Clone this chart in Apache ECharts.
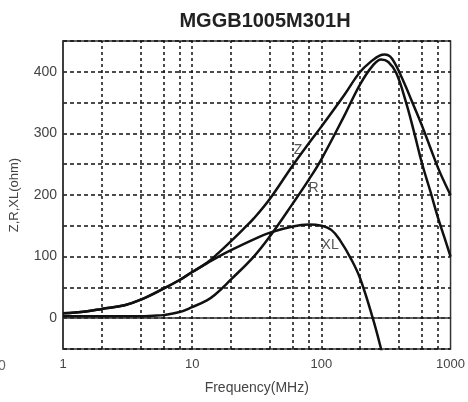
<!DOCTYPE html>
<html><head><meta charset="utf-8">
<script src="https://cdn.jsdelivr.net/npm/echarts@6/dist/echarts.min.js"></script>
<style>html,body{margin:0;padding:0;background:#fff}#c{width:468px;height:402px}</style>
</head><body><div id="c"></div>
<script>
var chartTitle = 'MGGB1005M301H';
var xName = 'Frequency(MHz)';
var yName = 'Z,R,XL(ohm)';
var xGridValues = [2,4,6,8,10,20,40,60,80,100,200,400,600,800];
var zData = [[1,8],[1.5,11],[2,15],[3,21],[4,30],[6,48],[8,62],[10,75],[13,90],[16,106],[20,125],[25,145],[30,162],[40,194],[60,248],[80,284],[100,311],[150,362],[200,400],[250,419],[280,426],[310,428],[340,425],[370,414],[400,400],[450,376],[500,353],[600,313],[700,276],[800,244],[900,220],[1000,200]];
var rData = [[1,3],[2,3],[3,3],[4,3],[5,4],[6,5],[8,10],[10,18],[13,29],[15,38],[20,63],[30,100],[40,133],[60,186],[80,225],[100,258],[150,328],[200,380],[250,410],[290,420],[330,416],[380,398],[450,352],[525,300],[600,252],[700,205],[800,163],[900,130],[1000,100]];
var xlData = [[1,8],[1.5,11],[2,15],[3,21],[4,30],[6,48],[8,62],[10,75],[13,89],[16,100],[20,110.5],[30,128],[40,139],[60,149],[80,152],[100,150],[120,143],[140,126],[170,96],[200,64],[250,0],[290,-50],[305,-70]];
var curveLabels = [{name:'Z', coord:[66,273]},{name:'R', coord:[87,211]},{name:'XL', coord:[117,119]}];

var chart = echarts.init(document.getElementById('c'), null, {renderer:'canvas'});
var lineStyle = {color:'#111', width:2.5};
chart.setOption({
  animation:false,
  title:{text:chartTitle, left:260, top:6, textAlign:'center', textStyle:{fontFamily:'Liberation Sans', fontWeight:'bold', fontSize:20, color:'#222'}},
  grid:{left:63, right:15, top:41, bottom:53, show:true, borderColor:'#333', borderWidth:1.5, backgroundColor:'transparent'},
  xAxis:{type:'log', logBase:10, min:1, max:1000, name:xName, nameLocation:'middle', nameGap:32,
    nameTextStyle:{fontFamily:'Liberation Sans', fontSize:14, color:'#444'},
    axisLine:{show:true, lineStyle:{color:'#333', width:1.5}}, axisTick:{show:false},
    axisLabel:{margin:9, fontFamily:'Liberation Sans', fontSize:13, color:'#444',
      formatter:function(v){return String(Math.round(v));}},
    splitLine:{show:false}},
  yAxis:{type:'value', min:-50, max:450, interval:50, name:yName, nameLocation:'middle', nameGap:42,
    nameTextStyle:{fontFamily:'Liberation Sans', fontSize:13, color:'#444'},
    axisLine:{show:true, lineStyle:{color:'#333', width:1.5}}, axisTick:{show:false},
    axisLabel:{margin:6, fontFamily:'Liberation Sans', fontSize:14, color:'#444',
      formatter:function(v){return (v>=0 && v%100===0)? String(v) : '';}},
    splitLine:{show:true, lineStyle:{color:'#111', width:1.5, type:[4,3]}}},
  graphic:[{type:'text', left:-2, top:359, style:{text:'0', fontFamily:'Liberation Sans', fontSize:14, fill:'#666'}}],
  series:[
    {type:'line', data:[], silent:true,
      markLine:{silent:true, symbol:'none', label:{show:false}, animation:false,
        lineStyle:{color:'#111', width:1.5, type:[3,3]},
        data:xGridValues.map(function(v){return {xAxis:v};})},
      markPoint:{symbol:'circle', symbolSize:0, silent:true,
        label:{show:true, formatter:'{b}', fontFamily:'Liberation Sans', fontSize:14, color:'#555'},
        data:curveLabels.map(function(d){return {name:d.name, coord:d.coord};})}},
    {name:'Z', type:'line', data:zData, smooth:0.4, symbol:'none', lineStyle:lineStyle, z:5},
    {name:'R', type:'line', data:rData, smooth:0.4, symbol:'none', lineStyle:lineStyle, z:5},
    {name:'XL', type:'line', data:xlData, smooth:0.4, symbol:'none', lineStyle:lineStyle, z:5, clip:true}
  ]
});
</script></body></html>
